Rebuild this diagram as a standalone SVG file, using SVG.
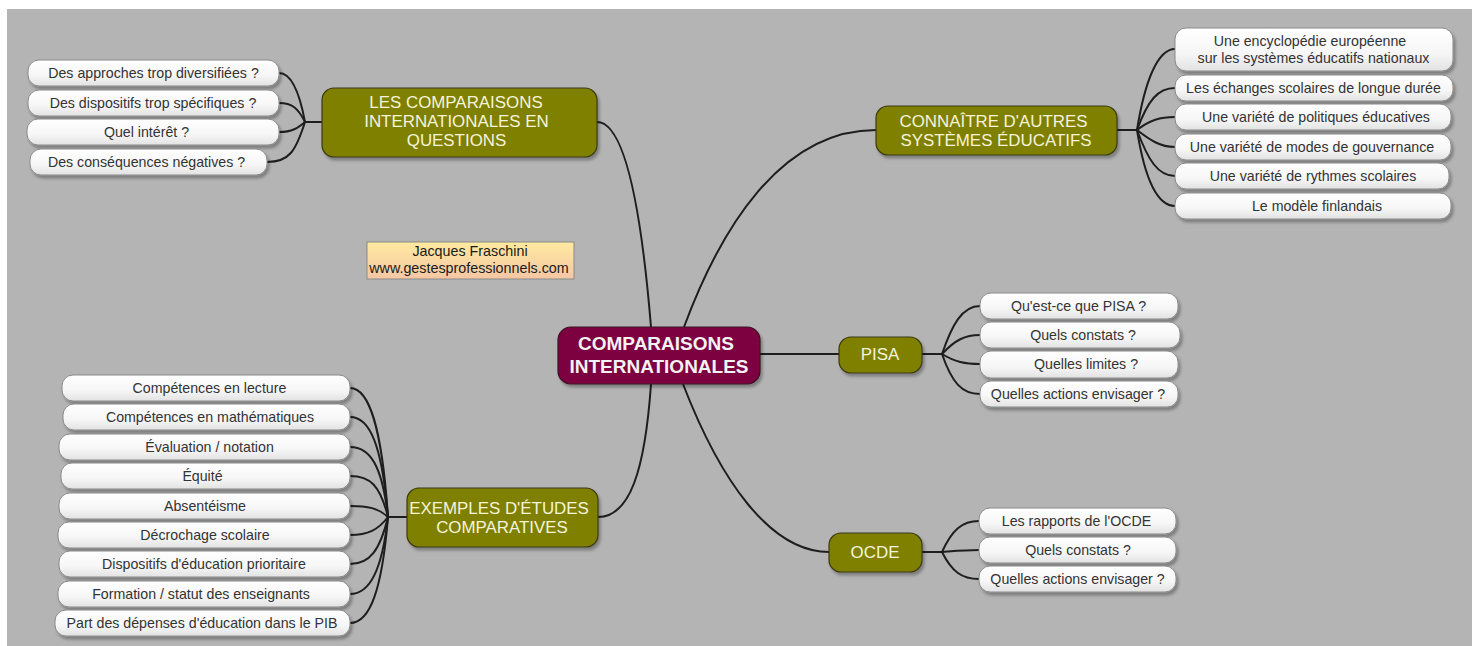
<svg xmlns="http://www.w3.org/2000/svg" width="1477" height="646" viewBox="0 0 1477 646">
<defs>
<linearGradient id="leafG" x1="0" y1="0" x2="0" y2="1">
<stop offset="0" stop-color="#ffffff"/>
<stop offset="0.6" stop-color="#f6f6f6"/>
<stop offset="1" stop-color="#e2e2e2"/>
</linearGradient>
<linearGradient id="credG" x1="0" y1="0" x2="0" y2="1">
<stop offset="0" stop-color="#ffeaa0"/>
<stop offset="1" stop-color="#f5c6a4"/>
</linearGradient>
<filter id="sh" x="-10%" y="-20%" width="125%" height="160%">
<feDropShadow dx="2" dy="3" stdDeviation="1.8" flood-color="#000" flood-opacity="0.3"/>
</filter>
</defs>
<style>
.leaf rect{fill:url(#leafG);stroke:#8a8a8a;stroke-width:1;filter:url(#sh)}
.leaf text{font-family:"Liberation Sans",Arial,sans-serif;font-size:14.2px;fill:#333;text-anchor:middle}
.main rect{fill:#808000;stroke:#3a3a10;stroke-width:1.2;filter:url(#sh)}
.main text{font-family:"Liberation Sans",Arial,sans-serif;font-size:16.9px;fill:#f4f4dc;text-anchor:middle}
.center rect{fill:#7d0040;stroke:#3a1020;stroke-width:1.2;filter:url(#sh)}
.center text{font-family:"Liberation Sans",Arial,sans-serif;font-size:19px;font-weight:bold;fill:#f2f2f2;text-anchor:middle}
.conn path{fill:none;stroke:#1e1e1e;stroke-width:2}
.cred rect{fill:url(#credG);stroke:#8a8a8a;stroke-width:1}
.cred text{font-family:"Liberation Sans",Arial,sans-serif;font-size:14.3px;fill:#1a1a1a;text-anchor:middle}
</style>
<rect x="0" y="0" width="1477" height="646" fill="#ffffff"/>
<rect x="7" y="9" width="1465" height="637" fill="#b4b4b4"/>

<g id="connectors" class="conn">
<path d="M651,327 C643,230 628,122 597,122"/>
<path d="M684,327 C720,230 780,130 876,130"/>
<path d="M760,354 L839,354"/>
<path d="M683,384 C720,480 770,552 829,552"/>
<path d="M651,384 C645,470 630,517 598,517"/>
<path d="M322,122 L305,122"/>
<path d="M305,122 C300,95 292,73 279,73"/>
<path d="M305,122 C298,108 292,103 279,103"/>
<path d="M305,122 C298,128 292,132 279,132"/>
<path d="M305,122 C296,150 290,162 267,162"/>
<path d="M1117,130 L1137,130"/>
<path d="M1137,130 C1145,80 1158,49 1175,49"/>
<path d="M1137,130 C1148,100 1158,88 1175,88"/>
<path d="M1137,130 C1150,120 1160,117 1175,117"/>
<path d="M1137,130 C1150,140 1160,147 1175,147"/>
<path d="M1137,130 C1148,160 1158,176 1175,176"/>
<path d="M1137,130 C1145,180 1158,206 1175,206"/>
<path d="M922,354 L942,354"/>
<path d="M942,354 C952,325 962,306 980,306"/>
<path d="M942,354 C955,340 965,335 980,335"/>
<path d="M942,354 C955,362 965,364 980,364"/>
<path d="M942,354 C952,383 962,394 980,394"/>
<path d="M922,552 L942,552"/>
<path d="M942,552 C952,530 962,521 979,521"/>
<path d="M942,552 C955,551 965,550 979,550"/>
<path d="M942,552 C952,572 962,579 979,579"/>
<path d="M407,517 L388,517"/>
<path d="M388,517 C382,430 370,388 350,388"/>
<path d="M388,517 C382,445 370,417 350,417"/>
<path d="M388,517 C382,465 370,447 350,447"/>
<path d="M388,517 C380,485 370,476 350,476"/>
<path d="M388,517 C378,508 368,506 350,506"/>
<path d="M388,517 C378,530 368,535 350,535"/>
<path d="M388,517 C380,550 370,564 350,564"/>
<path d="M388,517 C382,570 370,594 350,594"/>
<path d="M388,517 C382,590 370,623 350,623"/>
</g>

<g id="center" class="center">
<rect x="558" y="327" width="202" height="57" rx="13"/>
<text x="656" y="350">COMPARAISONS</text>
<text x="659" y="373">INTERNATIONALES</text>
</g>

<g id="n-questions" class="main">
<rect x="322" y="88" width="275" height="69" rx="12"/>
<text x="456" y="108">LES COMPARAISONS</text>
<text x="456.5" y="127">INTERNATIONALES EN</text>
<text x="456.5" y="146">QUESTIONS</text>
</g>
<g id="q1" class="leaf"><rect x="28" y="60" width="251" height="26" rx="11"/><text x="153.5" y="78">Des approches trop diversifiées ?</text></g>
<g id="q2" class="leaf"><rect x="28" y="90" width="251" height="26" rx="11"/><text x="153" y="108">Des dispositifs trop spécifiques ?</text></g>
<g id="q3" class="leaf"><rect x="27" y="119" width="252" height="26" rx="11"/><text x="146.5" y="137">Quel intérêt ?</text></g>
<g id="q4" class="leaf"><rect x="30" y="149" width="237" height="26" rx="11"/><text x="146.5" y="167">Des conséquences négatives ?</text></g>

<g id="n-connaitre" class="main">
<rect x="876" y="106" width="241" height="49" rx="12"/>
<text x="993.5" y="127">CONNAÎTRE D'AUTRES</text>
<text x="996" y="146">SYSTÈMES ÉDUCATIFS</text>
</g>
<g id="c1" class="leaf"><rect x="1175" y="28" width="278" height="43" rx="11"/><text x="1310" y="46">Une encyclopédie européenne</text><text x="1313.5" y="63">sur les systèmes éducatifs nationaux</text></g>
<g id="c2" class="leaf"><rect x="1175" y="75" width="278" height="26" rx="11"/><text x="1313.5" y="93">Les échanges scolaires de longue durée</text></g>
<g id="c3" class="leaf"><rect x="1175" y="104" width="276" height="26" rx="11"/><text x="1316" y="122">Une variété de politiques éducatives</text></g>
<g id="c4" class="leaf"><rect x="1175" y="134" width="276" height="26" rx="11"/><text x="1312" y="152">Une variété de modes de gouvernance</text></g>
<g id="c5" class="leaf"><rect x="1175" y="163" width="274" height="26" rx="11"/><text x="1313" y="181">Une variété de rythmes scolaires</text></g>
<g id="c6" class="leaf"><rect x="1175" y="193" width="276" height="26" rx="11"/><text x="1317" y="211">Le modèle finlandais</text></g>

<g id="credit" class="cred">
<rect x="367" y="242" width="207" height="37"/>
<text x="470" y="256">Jacques Fraschini</text>
<text x="469" y="273">www.gestesprofessionnels.com</text>
</g>

<g id="n-pisa" class="main">
<rect x="839" y="337" width="83" height="36" rx="12"/>
<text x="880" y="360">PISA</text>
</g>
<g id="p1" class="leaf"><rect x="980" y="293" width="198" height="26" rx="11"/><text x="1078.5" y="311">Qu'est-ce que PISA ?</text></g>
<g id="p2" class="leaf"><rect x="980" y="322" width="200" height="26" rx="11"/><text x="1083" y="340">Quels constats ?</text></g>
<g id="p3" class="leaf"><rect x="980" y="351" width="198" height="27" rx="11"/><text x="1086" y="369">Quelles limites ?</text></g>
<g id="p4" class="leaf"><rect x="980" y="381" width="198" height="26" rx="11"/><text x="1078" y="399">Quelles actions envisager ?</text></g>

<g id="n-ocde" class="main">
<rect x="829" y="533" width="93" height="39" rx="12"/>
<text x="875" y="558">OCDE</text>
</g>
<g id="o1" class="leaf"><rect x="979" y="508" width="197" height="26" rx="11"/><text x="1076.5" y="526">Les rapports de l'OCDE</text></g>
<g id="o2" class="leaf"><rect x="979" y="537" width="197" height="26" rx="11"/><text x="1078" y="555">Quels constats ?</text></g>
<g id="o3" class="leaf"><rect x="979" y="566" width="197" height="26" rx="11"/><text x="1077.5" y="584">Quelles actions envisager ?</text></g>

<g id="n-exemples" class="main">
<rect x="407" y="488" width="191" height="59" rx="12"/>
<text x="499" y="514">EXEMPLES D'ÉTUDES</text>
<text x="502" y="533">COMPARATIVES</text>
</g>
<g id="e1" class="leaf"><rect x="62" y="375" width="288" height="26" rx="11"/><text x="209.5" y="393">Compétences en lecture</text></g>
<g id="e2" class="leaf"><rect x="63" y="404" width="287" height="26" rx="11"/><text x="210" y="422">Compétences en mathématiques</text></g>
<g id="e3" class="leaf"><rect x="59" y="434" width="291" height="26" rx="11"/><text x="209.5" y="452">Évaluation / notation</text></g>
<g id="e4" class="leaf"><rect x="61" y="463" width="289" height="26" rx="11"/><text x="202.5" y="481">Équité</text></g>
<g id="e5" class="leaf"><rect x="59" y="493" width="291" height="26" rx="11"/><text x="205" y="511">Absentéisme</text></g>
<g id="e6" class="leaf"><rect x="58" y="522" width="292" height="26" rx="11"/><text x="205" y="540">Décrochage scolaire</text></g>
<g id="e7" class="leaf"><rect x="59" y="551" width="291" height="26" rx="11"/><text x="204" y="569">Dispositifs d'éducation prioritaire</text></g>
<g id="e8" class="leaf"><rect x="58" y="581" width="292" height="26" rx="11"/><text x="201" y="599">Formation / statut des enseignants</text></g>
<g id="e9" class="leaf"><rect x="55" y="610" width="295" height="26" rx="11"/><text x="202" y="628">Part des dépenses d'éducation dans le PIB</text></g>
</svg>
